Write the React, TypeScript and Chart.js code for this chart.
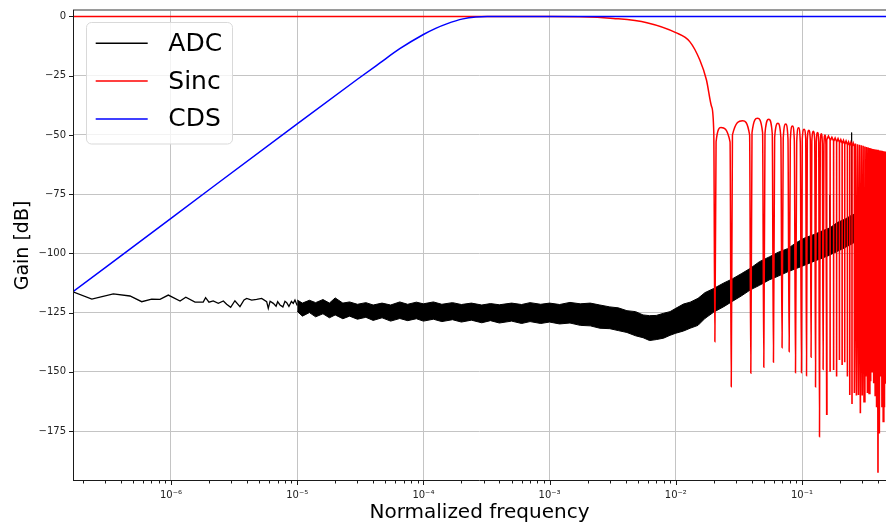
import React, { useEffect, useRef } from "react";
import { Chart, registerables } from "chart.js";

Chart.register(...registerables);

const FONT = "'DejaVu Sans', 'Liberation Sans', sans-serif";

// ---------------- axis ranges & ticks ----------------
const xMin = 1.673e-7;
const xMax = 0.463;
const yMin = -196.1;
const yMax = 2.74;
const yTickValues = [-175, -150, -125, -100, -75, -50, -25, 0];
const xTickExponents = [-6, -5, -4, -3, -2, -1];

const legendLabels = ["ADC", "Sinc", "CDS"];
const legendColors = ["#000000", "#ff0000", "#0000ff"];

// ---------------- CDS (blue) ----------------
const cdsF = [1.673e-7, 1e-6, 1e-5, 3e-5, 4.53e-5, 6.5e-5, 1e-4, 1.25e-4, 1.53e-4, 2.06e-4, 2.6e-4, 3.2e-4, 0.463];
const cdsDb = [-116.2, -85.2, -45.3, -26.5, -19.6, -13.6, -7.6, -5.0, -3.1, -1.0, -0.2, 0, 0];

// ---------------- Sinc (red) ----------------
const sincMainF = [1.673e-7, 1.0e-3, 1.74e-3, 3.2e-3, 5.9e-3, 1.0e-2, 1.29e-2, 1.55e-2, 1.75e-2, 1.92e-2, 2.0e-2];
const sincMainDb = [0, -0.03, -0.1, -0.8, -2.6, -6.8, -10.6, -18.4, -26.8, -38, -49.2];

const sincNullF = [0.0204, 0.0275, 0.0393, 0.0498, 0.0594, 0.0695, 0.0791, 0.0888, 0.099, 0.1086, 0.118, 0.128, 0.1376, 0.147, 0.157, 0.167, 0.178, 0.188, 0.198, 0.208, 0.218, 0.229, 0.239, 0.249, 0.26, 0.27, 0.28, 0.29, 0.3, 0.31, 0.32, 0.33, 0.34, 0.35, 0.36, 0.37, 0.38, 0.39, 0.4, 0.41, 0.42, 0.43, 0.44, 0.45, 0.46];
const sincNullDb = [-137.3, -156.3, -150.6, -148.1, -146.0, -139.8, -141.5, -150.4, -150.4, -151.7, -143.9, -156.4, -177.4, -149, -168.2, -150, -149.2, -152, -145, -147.1, -146, -152, -159.8, -163.6, -159, -160, -159.8, -167.5, -160, -162.6, -152, -159, -159.1, -154, -150, -154.8, -160, -165, -192.6, -176, -152, -165, -171, -165, -155];

const sincPeakF = [0.0228, 0.0338, 0.0444, 0.0545, 0.0644, 0.0743, 0.084, 0.0939, 0.1038, 0.1133, 0.123, 0.1328, 0.1423, 0.152, 0.162, 0.1725, 0.183, 0.193, 0.203, 0.213, 0.2235, 0.234, 0.244, 0.2545, 0.265, 0.275, 0.285, 0.295, 0.305, 0.315, 0.325, 0.335, 0.345, 0.355, 0.365, 0.375, 0.385, 0.395, 0.405, 0.415, 0.425, 0.435, 0.445, 0.455];
const sincPeakDb = [-46.9, -44.0, -43.0, -43.4, -45.1, -45.4, -46.2, -47.0, -47.6, -48.0, -48.5, -49.0, -49.5, -50.0, -50.5, -51.0, -51.3, -51.6, -52.0, -52.3, -52.6, -53.0, -53.2, -53.4, -53.6, -53.9, -54.1, -54.4, -54.6, -54.9, -55.1, -55.3, -55.5, -55.7, -55.9, -56.0, -56.2, -56.3, -56.5, -56.6, -56.7, -56.8, -56.9, -57.0];

// wide lobes (first 14): shoulder points just inside each null
const sincShoulderLF = [0.02085, 0.02811, 0.04017, 0.0509, 0.0607, 0.071, 0.0808, 0.0908, 0.1005, 0.1102, 0.1197, 0.1299, 0.1396, 0.1492];
const sincShoulderRF = [0.02691, 0.03845, 0.04872, 0.05812, 0.068, 0.0774, 0.0869, 0.0969, 0.107, 0.1163, 0.1261, 0.1356, 0.1449, 0.1547];
const sincShoulderDb = [-52.9, -50.0, -49.0, -49.4, -51.1, -51.4, -52.2, -53.0, -51.6, -52.0, -52.5, -53.0, -53.5, -54.0];
// narrower lobes (15th to 24th): level where each lobe meets its nulls
const sincDenseShoulderDb = [-52.0, -52.5, -52.8, -53.1, -53.5, -53.8, -54.1, -54.5, -54.7, -54.9];

// ---------------- ADC (black) ----------------
const adcLineF = [1.673e-7, 2.36e-7, 3.49e-7, 4.73e-7, 5.86e-7, 7.03e-7, 8.18e-7, 9.52e-7, 1.18e-6, 1.31e-6, 1.55e-6, 1.8e-6, 1.88e-6, 2.0e-6, 2.16e-6, 2.37e-6, 2.6e-6, 2.76e-6, 2.97e-6, 3.21e-6, 3.52e-6, 3.79e-6, 3.98e-6, 4.36e-6, 4.77e-6, 5.23e-6, 5.73e-6, 5.9e-6, 6.1e-6, 6.47e-6, 6.8e-6, 7.0e-6, 7.31e-6, 7.7e-6, 8.0e-6, 8.26e-6, 8.6e-6, 9.0e-6, 9.31e-6, 9.6e-6, 1.0e-5];
const adcLineDb = [-116.2, -119.3, -117.1, -118.0, -120.4, -119.3, -119.4, -117.6, -120.1, -118.5, -120.6, -120.6, -118.7, -120.6, -120.1, -121.1, -120.1, -121.5, -122.8, -120.0, -122.5, -119.7, -119.0, -119.7, -119.4, -119.0, -120.4, -123.2, -120.2, -121.1, -122.3, -120.4, -121.8, -122.6, -120.2, -120.8, -122.4, -120.3, -121.1, -119.7, -122.0];

const adcBandF = [1.0e-5, 1.1e-5, 1.25e-5, 1.4e-5, 1.6e-5, 1.8e-5, 2.0e-5, 2.3e-5, 2.6e-5, 3.0e-5, 3.5e-5, 4.0e-5, 4.7e-5, 5.5e-5, 6.5e-5, 7.5e-5, 8.8e-5, 1.0e-4, 1.2e-4, 1.4e-4, 1.7e-4, 2.0e-4, 2.4e-4, 2.9e-4, 3.4e-4, 4.0e-4, 5.0e-4, 6.0e-4, 7.0e-4, 8.5e-4, 1.0e-3, 1.2e-3, 1.45e-3, 1.75e-3, 2.1e-3, 2.5e-3, 3.0e-3, 3.5e-3, 4.1e-3, 4.8e-3, 5.5e-3, 6.2e-3, 7.0e-3, 8.0e-3, 9.0e-3, 1.0e-2, 1.15e-2, 1.3e-2, 1.5e-2, 1.7e-2, 2.0e-2, 2.4e-2, 2.8e-2, 3.3e-2, 3.9e-2, 4.6e-2, 5.5e-2, 6.5e-2, 7.7e-2, 9.0e-2, 0.105, 0.125, 0.145, 0.165, 0.166, 0.167, 0.19, 0.22, 0.245, 0.2466, 0.248, 0.28, 0.33, 0.39, 0.463];
const adcBandTopDb = [-119.7, -121.0, -119.8, -120.8, -119.5, -121.0, -118.8, -121.0, -120.5, -121.5, -120.8, -121.8, -121.0, -121.8, -120.5, -121.5, -120.6, -121.3, -120.5, -121.5, -120.8, -121.6, -121.0, -121.8, -121.2, -121.7, -121.0, -121.6, -120.8, -121.5, -121.0, -121.6, -120.7, -121.3, -121.0, -121.8, -122.6, -123.0, -124.2, -124.6, -126.0, -126.3, -126.2, -125.3, -124.6, -123.2, -121.4, -120.6, -119.0, -116.6, -114.8, -112.5, -110.8, -108.6, -106.3, -103.5, -101.5, -99.5, -98.0, -95.5, -93.5, -92.0, -90.5, -89.3, -75.4, -89.2, -87.0, -85.5, -84.0, -49.0, -84.0, -82.5, -81.0, -79.5, -78.0];
const adcBandBottomDb = [-124.5, -126.5, -125.0, -126.8, -125.5, -127.2, -126.0, -127.6, -126.5, -127.8, -127.0, -128.3, -127.2, -128.6, -127.5, -128.4, -127.6, -128.6, -127.8, -128.8, -128.0, -129.0, -128.2, -129.3, -128.4, -129.4, -128.6, -129.6, -128.8, -129.6, -129.0, -129.8, -129.4, -130.4, -130.6, -131.6, -131.8, -132.6, -133.4, -134.8, -135.6, -136.8, -136.4, -135.8, -134.6, -133.7, -132.8, -131.6, -130.4, -127.5, -124.8, -122.5, -120.3, -118.0, -115.4, -113.5, -111.2, -109.6, -107.8, -106.4, -105.0, -103.3, -102.0, -100.8, -100.7, -100.6, -99.2, -97.5, -96.2, -96.1, -96.0, -94.5, -92.5, -90.5, -88.5];

// ---------------- helpers ----------------
const pts = (f: number[], d: number[]) => f.map((v, i) => ({ x: v, y: d[i] }));

const WIDE = sincShoulderLF.length;

// wide part: main lobe + first lobes (smooth)
const sincWidePoints = pts(sincMainF, sincMainDb);
for (let i = 0; i < WIDE; i++) {
  sincWidePoints.push({ x: sincNullF[i], y: sincNullDb[i] });
  sincWidePoints.push({ x: sincShoulderLF[i], y: sincShoulderDb[i] });
  sincWidePoints.push({ x: sincPeakF[i], y: sincPeakDb[i] });
  sincWidePoints.push({ x: sincShoulderRF[i], y: sincShoulderDb[i] });
}
sincWidePoints.push({ x: sincNullF[WIDE], y: sincNullDb[WIDE] });

// dense part: straight segments
const sincDensePoints: { x: number; y: number }[] = [];
for (let i = WIDE; i < sincPeakF.length; i++) {
  const k = i - WIDE;
  sincDensePoints.push({ x: sincNullF[i], y: sincNullDb[i] });
  if (k < sincDenseShoulderDb.length) {
    sincDensePoints.push({ x: sincNullF[i], y: sincDenseShoulderDb[k] });
    sincDensePoints.push({ x: sincPeakF[i], y: sincPeakDb[i] });
    sincDensePoints.push({ x: sincNullF[i + 1], y: sincDenseShoulderDb[k] });
  } else {
    sincDensePoints.push({ x: sincPeakF[i], y: sincPeakDb[i] });
  }
}
sincDensePoints.push({ x: sincNullF[sincNullF.length - 1], y: sincNullDb[sincNullDb.length - 1] });

const xTickValues: number[] = [];
for (let e = -7; e <= -1; e++) {
  for (let k = 1; k <= 9; k++) {
    const v = k * Math.pow(10, e);
    if (v >= xMin && v <= xMax) xTickValues.push(v);
  }
}
const isMajorX = (v: number) => {
  const e = Math.round(Math.log10(v));
  return Math.abs(v / Math.pow(10, e) - 1) < 1e-9;
};
const SUP: Record<string, string> = { "0": "⁰", "1": "¹", "2": "²", "3": "³", "4": "⁴", "5": "⁵", "6": "⁶", "7": "⁷", "8": "⁸", "9": "⁹", "-": "⁻" };
const xLabel = (v: number) => {
  if (!isMajorX(v)) return "";
  const e = Math.round(Math.log10(v));
  if (!xTickExponents.includes(e)) return "";
  return "10" + String(e).split("").map((c) => SUP[c]).join("");
};

const GRID = "#c4c4c4";

const decorPlugin = {
  id: "decor",
  afterDraw(chart: any) {
    const { ctx, chartArea: a, scales } = chart;
    const xs = scales.x;
    const ys = scales.y;
    ctx.save();
    // spines
    ctx.fillStyle = "#9a9a9a";
    ctx.fillRect(a.left, a.top - 1, a.right - a.left, 2);
    ctx.strokeStyle = "#1a1a1a";
    ctx.lineWidth = 1;
    ctx.beginPath();
    ctx.moveTo(a.left + 0.5, a.top);
    ctx.lineTo(a.left + 0.5, a.bottom);
    ctx.moveTo(a.left, a.bottom - 0.5);
    ctx.lineTo(a.right, a.bottom - 0.5);
    ctx.stroke();
    // tick marks
    ctx.lineWidth = 1;
    ctx.beginPath();
    for (const t of xs.ticks) {
      const px = Math.round(xs.getPixelForValue(t.value)) + 0.5;
      const len = isMajorX(t.value) ? 4 : 2.5;
      ctx.moveTo(px, a.bottom);
      ctx.lineTo(px, a.bottom + len);
    }
    for (const t of ys.ticks) {
      const py = Math.round(ys.getPixelForValue(t.value)) + 0.5;
      ctx.moveTo(a.left, py);
      ctx.lineTo(a.left - 4, py);
    }
    ctx.stroke();
    // legend
    const bx = 86.5, by = 22.5, bw = 146, bh = 121.5, r = 5;
    ctx.beginPath();
    ctx.moveTo(bx + r, by);
    ctx.lineTo(bx + bw - r, by);
    ctx.arcTo(bx + bw, by, bx + bw, by + r, r);
    ctx.lineTo(bx + bw, by + bh - r);
    ctx.arcTo(bx + bw, by + bh, bx + bw - r, by + bh, r);
    ctx.lineTo(bx + r, by + bh);
    ctx.arcTo(bx, by + bh, bx, by + bh - r, r);
    ctx.lineTo(bx, by + r);
    ctx.arcTo(bx, by, bx + r, by, r);
    ctx.closePath();
    ctx.fillStyle = "rgba(255,255,255,0.8)";
    ctx.fill();
    ctx.strokeStyle = "#d9d9d9";
    ctx.stroke();
    ctx.font = `25px ${FONT}`;
    ctx.textBaseline = "middle";
    ctx.textAlign = "left";
    legendLabels.forEach((lab, i) => {
      const y = 43.3 + i * 37.8;
      ctx.strokeStyle = legendColors[i];
      ctx.lineWidth = 1.5;
      ctx.beginPath();
      ctx.moveTo(95.7, y);
      ctx.lineTo(147.7, y);
      ctx.stroke();
      ctx.fillStyle = "#000";
      ctx.fillText(lab, 168.3, y + 1);
    });
    ctx.restore();
  },
};

export default function App() {
  const ref = useRef<HTMLCanvasElement>(null);
  useEffect(() => {
    const chart = new Chart(ref.current as HTMLCanvasElement, {
      type: "line",
      data: {
        datasets: [
          {
            label: "ADC",
            data: pts(adcLineF, adcLineDb),
            borderColor: "#000",
            borderWidth: 1.3,
            pointRadius: 0,
            tension: 0,
            fill: false,
            order: 3,
          },
          {
            label: "ADC band top",
            data: pts(adcBandF, adcBandTopDb),
            borderColor: "#000",
            borderWidth: 1,
            pointRadius: 0,
            tension: 0,
            fill: false,
            order: 4,
          },
          {
            label: "ADC band bottom",
            data: pts(adcBandF, adcBandBottomDb),
            borderColor: "#000",
            backgroundColor: "#000",
            borderWidth: 1,
            pointRadius: 0,
            tension: 0,
            fill: "-1",
            order: 5,
          },
          {
            label: "Sinc",
            data: sincWidePoints,
            borderColor: "#ff0000",
            borderWidth: 1.5,
            pointRadius: 0,
            cubicInterpolationMode: "monotone",
            fill: false,
            order: 1,
          },
          {
            label: "Sinc dense",
            data: sincDensePoints,
            borderColor: "#ff0000",
            borderWidth: 1.6,
            pointRadius: 0,
            tension: 0,
            fill: false,
            order: 2,
          },
          {
            label: "CDS",
            data: pts(cdsF, cdsDb),
            borderColor: "#0000ff",
            borderWidth: 1.5,
            pointRadius: 0,
            cubicInterpolationMode: "monotone",
            fill: false,
            order: 0,
          },
        ] as any,
      },
      options: {
        responsive: false,
        devicePixelRatio: 1,
        animation: false,
        events: [],
        layout: { padding: { top: 10, right: 1, bottom: 0, left: 0 } },
        plugins: { legend: { display: false }, tooltip: { enabled: false } },
        scales: {
          x: {
            type: "logarithmic",
            min: xMin,
            max: xMax,
            afterBuildTicks: (s: any) => {
              s.ticks = xTickValues.map((v) => ({ value: v }));
            },
            afterFit: (s: any) => {
              s.height = 50;
              s.paddingLeft = 0;
              s.paddingRight = 0;
              s.paddingTop = 0;
              s.paddingBottom = 0;
            },
            ticks: {
              autoSkip: false,
              maxRotation: 0,
              minRotation: 0,
              padding: 8,
              color: "#222",
              font: { family: FONT, size: 10 },
              callback: (v: any) => xLabel(Number(v)),
            },
            grid: {
              drawTicks: false,
              lineWidth: 1,
              color: (c: any) => (c.tick && isMajorX(c.tick.value) ? GRID : "rgba(0,0,0,0)"),
            },
            border: { display: false },
            title: {
              display: true,
              text: "Normalized frequency",
              color: "#000",
              font: { family: FONT, size: 20 },
              padding: { top: 0, bottom: 6 },
            },
          },
          y: {
            type: "linear",
            min: yMin,
            max: yMax,
            afterBuildTicks: (s: any) => {
              s.ticks = yTickValues.map((v) => ({ value: v }));
            },
            afterFit: (s: any) => {
              s.width = 73;
              s.paddingLeft = 0;
              s.paddingRight = 0;
              s.paddingTop = 0;
              s.paddingBottom = 0;
            },
            ticks: {
              padding: 7,
              color: "#222",
              font: { family: FONT, size: 10 },
              callback: (v: any) => (Number(v) === 0 ? "0" : "\u2212" + Math.abs(Number(v))),
            },
            grid: { drawTicks: false, lineWidth: 1, color: GRID },
            border: { display: false },
            title: {
              display: true,
              text: "Gain [dB]",
              color: "#000",
              font: { family: FONT, size: 19 },
              padding: { top: 11.5, bottom: 0 },
            },
          },
        },
      },
      plugins: [decorPlugin],
    } as any);
    return () => chart.destroy();
  }, []);
  return (
    <div style={{ position: "fixed", left: 0, top: 0, width: 887, height: 531, background: "#fff" }}>
      <canvas ref={ref} width={887} height={531} style={{ display: "block", width: 887, height: 531 }} />
    </div>
  );
}
